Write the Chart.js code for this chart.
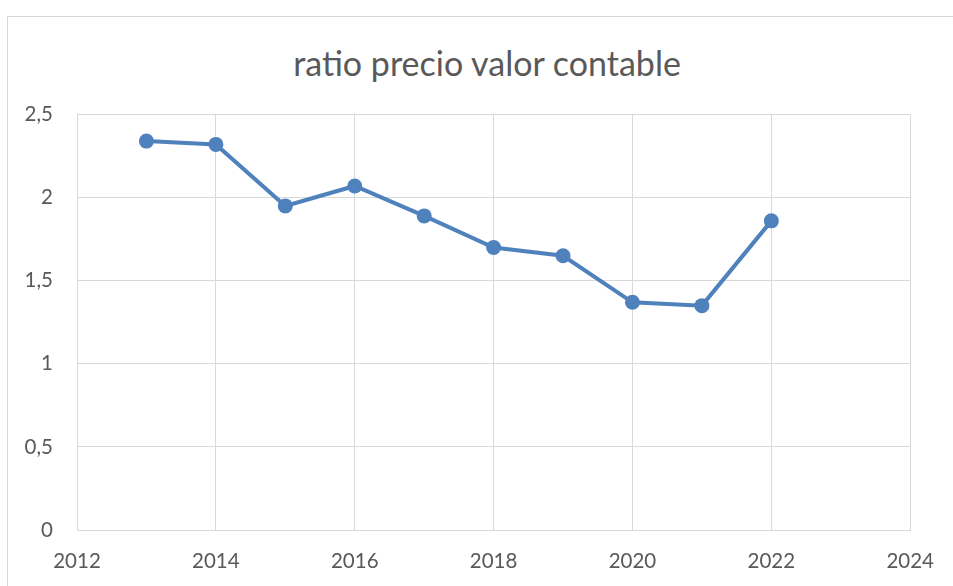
<!DOCTYPE html>
<html>
<head>
<meta charset="utf-8">
<script src="https://cdn.jsdelivr.net/npm/chart.js@4"></script>
<style>
  html, body { margin: 0; padding: 0; background: #fff; overflow: hidden; }
  #wrap { position: relative; width: 953px; height: 586px; }
  #frame { position: absolute; left: 7px; top: 16px; width: 1000px; height: 1000px; border: 1px solid #d9d9d9; box-sizing: border-box; pointer-events: none; }
  #title { position: absolute; left: 287px; width: 400px; top: 40px; height: 46px; line-height: 46px; text-align: center; font-family: Lato, "Open Sans", sans-serif; font-size: 34px; color: #595959; white-space: nowrap; }
  canvas { position: absolute; left: 0; top: 0; }
</style>
</head>
<body>
<div id="wrap">
  <div id="frame"></div>
  <div id="title"></div>
  <canvas id="c" width="953" height="586"></canvas>
</div>
<script>
const years = [2013, 2014, 2015, 2016, 2017, 2018, 2019, 2020, 2021, 2022];
const ratios = [2.34, 2.32, 1.95, 2.07, 1.89, 1.70, 1.65, 1.37, 1.35, 1.86];
const xTicks = [2012, 2014, 2016, 2018, 2020, 2022, 2024];
const yTicks = [0, 0.5, 1, 1.5, 2, 2.5];
const chartTitle = 'ratio precio valor contable';

document.getElementById('title').textContent = chartTitle;

const FONT = 'Lato, "Open Sans", sans-serif';
const txt = '#595959';
const grid = '#d9d9d9';

new Chart(document.getElementById('c'), {
  type: 'scatter',
  data: {
    datasets: [{
      data: years.map((y, i) => ({ x: y, y: ratios[i] })),
      showLine: true,
      borderColor: '#4f81bd',
      backgroundColor: '#4f81bd',
      borderWidth: 4,
      pointRadius: 7.5,
      pointHoverRadius: 7.5,
      pointBorderWidth: 0,
      tension: 0
    }]
  },
  options: {
    responsive: false,
    animation: false,
    events: [],
    layout: { padding: { left: 0, right: 40, top: 114.5, bottom: 0 } },
    plugins: {
      legend: { display: false },
      tooltip: { enabled: false },
      title: { display: false }
    },
    scales: {
      x: {
        type: 'linear',
        min: xTicks[0],
        max: xTicks[xTicks.length - 1],
        afterBuildTicks: (s) => { s.ticks = xTicks.map(v => ({ value: v })); },
        afterFit: (s) => { s.height = 56; },
        grid: { color: grid, lineWidth: 1, drawTicks: false },
        border: { color: grid, width: 1 },
        ticks: {
          color: txt,
          font: { family: FONT, size: 20.5 },
          padding: 19,
          maxRotation: 0,
          callback: (v) => String(v)
        }
      },
      y: {
        type: 'linear',
        min: yTicks[0],
        max: yTicks[yTicks.length - 1],
        afterBuildTicks: (s) => { s.ticks = yTicks.map(v => ({ value: v })); },
        afterFit: (s) => { s.width = 77; },
        grid: { color: grid, lineWidth: 1, drawTicks: false },
        border: { display: false },
        ticks: {
          color: txt,
          font: { family: FONT, size: 20.5 },
          padding: 24,
          callback: (v) => String(v).replace('.', ',')
        }
      }
    }
  }
});
</script>
</body>
</html>
